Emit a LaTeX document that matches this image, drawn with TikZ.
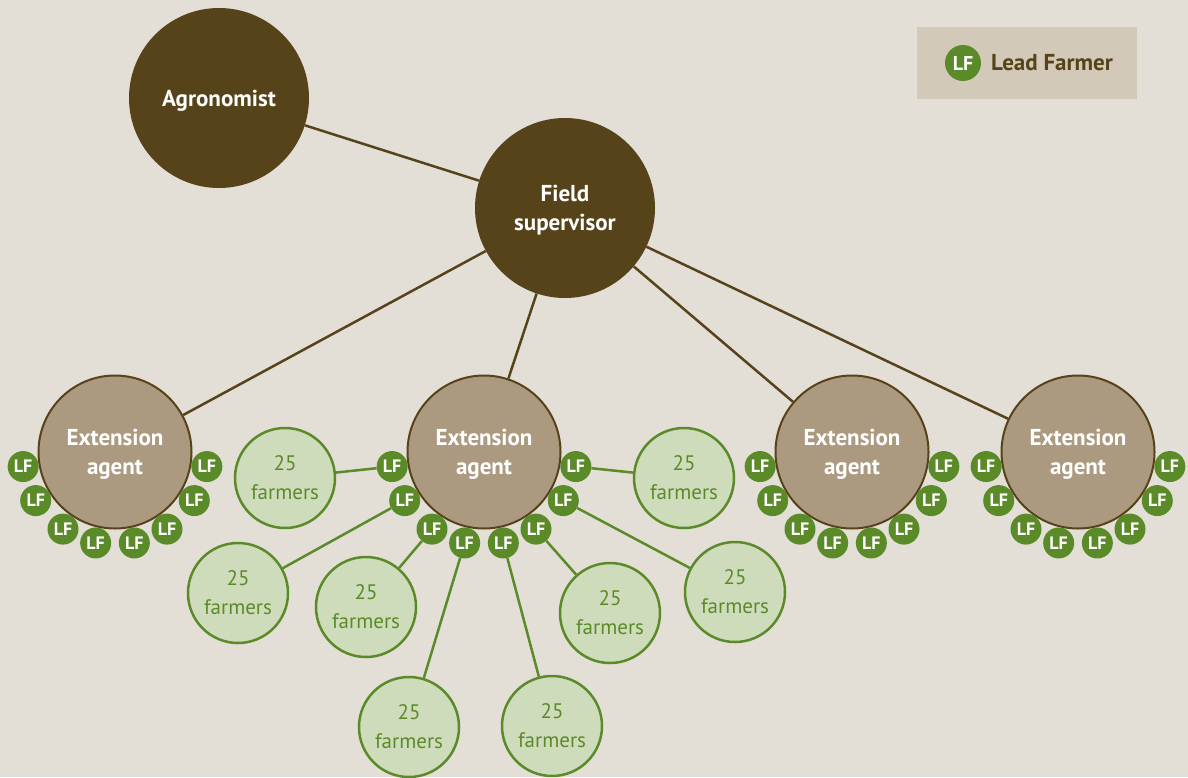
\documentclass[tikz,border=0pt]{standalone}
\usepackage{fontspec}
\setmainfont{PT Sans}
\usetikzlibrary{backgrounds,calc}
\definecolor{paper}{HTML}{E3DFD7}
\definecolor{darkbrown}{HTML}{56431A}
\definecolor{agentfill}{HTML}{AB9A80}
\definecolor{lfgreen}{HTML}{5B8A29}
\definecolor{farmfill}{HTML}{CFDCBC}
\definecolor{legendfill}{HTML}{D3C9B9}
\begin{document}
\begin{tikzpicture}[x=1pt,y=-1pt,
  boss/.style={circle, fill=darkbrown, text=white, inner sep=0pt,
    minimum size=180pt, align=center, text depth=0pt,
    font=\bfseries\fontsize{23}{29}\selectfont},
  agent/.style={circle, draw=darkbrown, line width=2pt, fill=agentfill,
    text=white, inner sep=0pt, minimum size=153pt, align=center,
    text depth=0pt, font=\bfseries\fontsize{23}{29}\selectfont},
  lf/.style={circle, fill=lfgreen, text=white, inner sep=0pt,
    minimum size=31pt, font=\bfseries\fontsize{18}{18}\selectfont},
  farmers/.style={circle, draw=lfgreen, line width=2.5pt, fill=farmfill,
    text=lfgreen, inner sep=0pt, minimum size=100pt, align=center,
    text depth=0pt, font=\fontsize{21}{29}\selectfont},
  bosslink/.style={draw=darkbrown, line width=2.5pt},
  farmlink/.style={draw=lfgreen, line width=2.5pt}
]
\begin{scope}[on background layer]
  \fill[paper] (0,0) rectangle (1188,777);
\end{scope}
\useasboundingbox (0,0) rectangle (1188,777);

% legend
\node[rectangle, fill=legendfill, minimum width=220pt, minimum height=72pt,
  inner sep=0pt] (legend) at (1027,63) {};
\node[lf, minimum size=36pt, font=\bfseries\fontsize{20}{20}\selectfont]
  (legendlf) at (963,63) {LF};
\node[anchor=west, text=darkbrown, inner sep=0pt,
  font=\bfseries\fontsize{23}{23}\selectfont] (legendtext) at (991,63) {Lead Farmer};

% management
\node[boss] (agro) at (219,98) {Agronomist};
\node[boss] (super) at (565,208) {Field\\supervisor};

% extension agents
\node[agent] (a1) at (115,452) {Extension\\agent};
\node[agent] (a2) at (484,452) {Extension\\agent};
\node[agent] (a3) at (852,452) {Extension\\agent};
\node[agent] (a4) at (1078,452) {Extension\\agent};

% lead farmers around each agent
\foreach \a in {a1,a2,a3,a4}{
  \foreach \ang [count=\i] in {171,148.5,124,102,78,56,31.5,9}{
    \node[lf] (\a-lf\i) at ($(\a)+(\ang:93)$) {LF};
  }
}

% farmer groups served by the lead farmers of the second agent
\node[farmers] (f1) at (285,478) {25\\farmers};
\node[farmers] (f2) at (238,593) {25\\farmers};
\node[farmers] (f3) at (366,607) {25\\farmers};
\node[farmers] (f4) at (409,727) {25\\farmers};
\node[farmers] (f5) at (552,726) {25\\farmers};
\node[farmers] (f6) at (610,613) {25\\farmers};
\node[farmers] (f7) at (735,592) {25\\farmers};
\node[farmers] (f8) at (684,478) {25\\farmers};

\begin{scope}[on background layer]
  \draw[bosslink] (agro) -- (super);
  \foreach \a in {a1,a2,a3,a4} \draw[bosslink] (super) -- (\a);
  \foreach \i in {1,...,8} \draw[farmlink] (a2-lf\i) -- (f\i);
\end{scope}
\end{tikzpicture}
\end{document}
